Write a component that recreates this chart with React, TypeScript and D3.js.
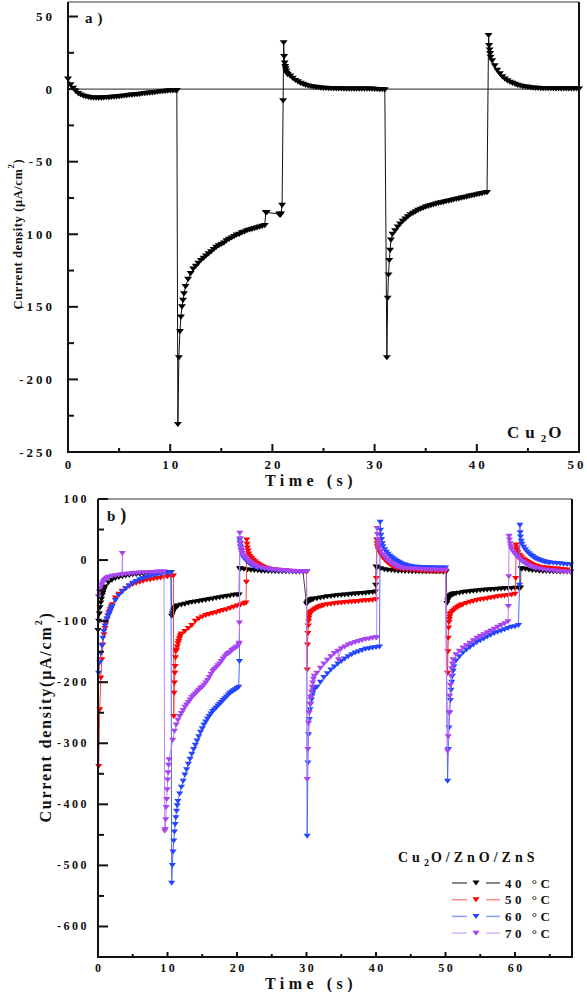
import React from "react";
import * as d3 from "d3";

// [start time (s), time step (s), current density values]
type Seg = [number, number, number[]];

// ---------- panel a : Cu2O ----------
const aTimeTicks = [0, 10, 20, 30, 40, 50];
const aTimeMinor = [5, 15, 25, 35, 45];
const aValueTicks = [50, 0, -50, -100, -150, -200, -250];
const aValueMinor = [25, -25, -75, -125, -175, -225];

const cu2oSeries: Seg[] = [
  [0, 0.25, [7, 3, 0.5, -1.5, -3, -4, -4.8, -5.3, -5.7, -6, -6.1, -6.2, -6.2, -6.1, -6, -5.9, -5.8, -5.6, -5.5, -5.3, -5.1, -4.9, -4.7, -4.5, -4.3, -4.1, -3.9, -3.7, -3.5, -3.3, -3.1, -2.9, -2.7, -2.5, -2.3, -2.1, -1.9, -1.7, -1.5, -1.3, -1.2, -1.1, -1.0]],
  [10.65, 0.1, [-1, -231, -185, -167, -157, -150, -145.5, -141]],
  [11.5, 0.25, [-136, -131, -127, -124, -122, -120, -118, -116.5, -115, -113.5, -112, -110.5, -109, -108, -107, -106, -104.5, -103.5, -102.5, -101.5, -100.5, -100, -99, -98.5, -97.5, -97, -96.5, -96, -95.5, -95, -94.5, -94]],
  [19.35, 0.1, [-85, -85]],
  [20.65, 0.1, [-86, -87, -86, -80]],
  [21.05, 0.05, [-8, 32, 22.5, 18, 15.5, 14, 12.5, 11]],
  [21.5, 0.25, [10, 9, 7.5, 6, 5, 4, 3.3, 2.7, 2.2, 1.8, 1.5, 1.2, 1, 0.8, 0.6, 0.5, 0.4, 0.3, 0.3, 0.2, 0.2, 0.2, 0.1, 0.1, 0.1, 0, 0, 0, 0, 0, 0, 0, 0, 0, -0.1, -0.2, -0.3, -0.3, -0.4]],
  [31.2, 0.08, [-185, -144, -128, -118, -111, -104]],
  [31.75, 0.25, [-100, -97.5, -95, -93, -91, -89.5, -88, -86.5, -85.5, -84.5, -83.5, -82.7, -82, -81.3, -80.7, -80.2, -79.7, -79.2, -78.7, -78.3, -77.9, -77.5, -77.1, -76.7, -76.3, -75.9, -75.5, -75.1, -74.7, -74.3, -73.9, -73.5, -73.1, -72.7, -72.3, -71.9, -71.5, -71.2]],
  [41.15, 0.05, [37, 30, 27, 24.5, 22]],
  [41.5, 0.25, [19.5, 16, 13, 10.5, 8.5, 7, 5.8, 4.8, 4, 3.3, 2.7, 2.2, 1.8, 1.5, 1.2, 1, 0.8, 0.6, 0.5, 0.4, 0.4, 0.3, 0.3, 0.3, 0.2, 0.2, 0.2, 0.2, 0.2, 0.2, 0.2, 0.2, 0.2, 0.2, 0.1]],
];

// ---------- panel b : Cu2O/ZnO/ZnS ----------
const bTimeTicks = [0, 10, 20, 30, 40, 50, 60];
const bTimeMinor = [5, 15, 25, 35, 45, 55, 65];
const bValueTicks = [100, 0, -100, -200, -300, -400, -500, -600];
const bValueMinor = [50, -50, -150, -250, -350, -450, -550];

const series40: Seg[] = [
  [0, 0.1, [-115, -100, -88, -78, -70, -64, -58, -54, -50, -47, -44]],
  [1.5, 0.5, [-37, -33, -30, -28.5, -27, -26, -25, -24, -23.5, -23, -22.5, -22, -21.5, -21, -20.5, -20.5, -20, -20, -20]],
  [10.6, 0.1, [-92, -88, -85, -82, -80, -78.5, -77.5, -76.5, -75.5, -75]],
  [12, 0.5, [-73.5, -72, -70.5, -69.5, -68.5, -67.5, -66.5, -65.5, -64.5, -63.5, -62.5, -61.5, -60.5, -59.5, -58.5, -57.5, -57]],
  [20.3, 0.05, [-57, -14]],
  [20.5, 0.5, [-14.5, -15, -16, -16.5, -17, -17.5, -18, -18, -18.5, -18.5, -19, -19, -19, -19, -19, -19.5, -19.5, -19.5, -19.5]],
  [30.0, 0.1, [-72, -70, -68.5, -67.5, -66.5, -66, -65.5, -65, -64.5, -64.2, -64]],
  [31.5, 0.5, [-63, -62, -61, -60, -59.3, -58.6, -58, -57.5, -57, -56.5, -56, -55.5, -55, -54.5, -54, -53.5, -53]],
  [39.9, 0.05, [-52, -41, -11]],
  [40.2, 0.5, [-12, -14, -15.5, -16.5, -17, -17.5, -18, -18, -18.5, -18.5, -19, -19, -19, -19, -19, -19, -19, -19, -19, -19.5]],
  [50.1, 0.1, [-19.5, -71, -67, -63, -61, -59.5, -58.5, -57.5, -57, -56.5, -56, -55.5]],
  [51.5, 0.5, [-55, -54, -53, -52.3, -51.6, -51, -50.4, -49.8, -49.3, -48.8, -48.3, -47.9, -47.5, -47.1, -46.8, -46.5, -46.2, -46, -45.8]],
  [60.8, 0.05, [-45.5, -14]],
  [61, 0.5, [-14.5, -15, -16, -17, -17.5, -18, -18.5, -18.5, -19, -19, -19, -19.5, -19.5, -19.5, -19.5]],
];

const series50: Seg[] = [
  [0.1, 0.15, [-338, -245, -193, -163, -139, -122, -112, -104, -97, -91, -86, -81, -77, -73]],
  [2.5, 0.5, [-62, -56, -51, -47, -43, -40, -38, -36, -34.5, -33, -32, -31, -30, -29, -28, -27, -26.5]],
  [10.85, 0.05, [-26, -256, -218, -201, -185, -174, -160, -150]],
  [11.3, 0.1, [-147, -142, -137, -133, -129, -126, -123, -121]],
  [12.5, 0.5, [-117, -112, -107, -100, -96, -93, -90.5, -89, -87.5, -86, -84, -82.5, -81, -79, -77, -75, -73.5, -71.5]],
  [21.3, 0.05, [-70, -36, 33, 26, 20]],
  [21.6, 0.1, [15, 10]],
  [21.85, 0.25, [6, 3, 0, -2.5, -5, -7, -9, -10.5, -12, -13, -14, -15]],
  [25, 0.5, [-15.5, -16, -16.5, -17, -17.5, -18, -18.5, -19, -19, -19.5, -20]],
  [30.1, 0.05, [-180, -139, -120, -108, -100, -95, -91, -88]],
  [30.5, 0.25, [-86, -84, -82, -80, -78.5, -77, -76, -75]],
  [32.5, 0.5, [-74, -73, -72, -71.2, -70.5, -70, -69.5, -69, -68.5, -68, -67.5, -67, -66.5, -66, -65.5, -65]],
  [40.05, 0.05, [-30, 33, 27, 22]],
  [40.3, 0.25, [17, 12, 7, 3, 0, -3, -5.5, -7.5, -9.5, -11, -12.5, -13.5]],
  [43.5, 0.5, [-14.5, -15.5, -16, -16.5, -17, -17.5, -18, -18, -18.5, -18.5, -19, -19, -19, -19.5]],
  [50.3, 0.05, [-185, -150, -128, -111, -102, -97, -93, -89]],
  [50.75, 0.25, [-87, -84, -81.5, -79, -77, -75.5, -74, -73]],
  [53, 0.5, [-71, -69, -67.5, -66, -65, -64, -63, -62, -61, -60, -59, -58.5, -58, -57, -56]],
  [60.1, 0.05, [-30, 25, 20, 16]],
  [60.4, 0.25, [12, 8, 5, 2, 0, -2, -4, -5.5, -7, -8.5, -9.5, -10.5]],
  [63.5, 0.5, [-11.5, -12.5, -13, -13.5, -14, -14.5, -15, -15.5, -16]],
];

const series60: Seg[] = [
  [0.1, 0.15, [-185, -168, -153, -140, -128, -117, -108, -101, -96, -92, -88, -84, -80, -76]],
  [2.5, 0.5, [-66, -58, -52, -47, -42, -38, -35, -32, -30, -28, -26.5, -25, -24, -23, -22, -21, -20.5]],
  [10.6, 0.1, [-529, -500, -478, -460, -445, -433, -422, -411, -402, -395]],
  [11.75, 0.25, [-383, -372, -362, -352, -343, -334, -326, -318, -310, -303, -296, -289, -282, -276, -270, -265, -260, -256, -252, -248, -245, -242, -239, -236, -233, -230, -227, -224, -221, -218, -216, -214, -212, -210, -208]],
  [20.35, 0.05, [-166, 33, 28, 22]],
  [20.6, 0.1, [16, 11, 7]],
  [21, 0.25, [3, 0, -3, -5.5, -7.5, -9, -10.5, -12, -13]],
  [23.5, 0.5, [-14, -15, -16, -16.5, -17, -17.5, -18, -18, -18.5, -18.5, -19, -19, -19, -19]],
  [30.1, 0.1, [-452, -332, -286, -261, -245, -236, -229, -223, -218, -214, -210]],
  [31.5, 0.5, [-208, -200, -192, -186, -180, -175, -170, -166, -162, -158, -155, -152, -150, -148, -146, -145, -144, -143, -142]],
  [40.6, 0.05, [62, 49, 41]],
  [40.8, 0.1, [34, 27]],
  [41, 0.25, [22, 17, 13, 9.5, 6.5, 4, 2, 0, -2, -3.5, -5, -6.5, -7.5, -8.5, -9.5, -10]],
  [45, 0.5, [-10.5, -11, -11.5, -12, -12, -12.5, -12.5, -13, -13, -13, -13]],
  [50.3, 0.1, [-362, -310, -275, -250, -230, -213, -200, -190, -182, -175]],
  [51.5, 0.5, [-165, -158, -152, -147, -143, -139, -135, -132, -129, -126, -123, -120, -118, -116, -114, -112, -110, -109, -107]],
  [60.65, 0.05, [-41, 57, 45, 38]],
  [60.9, 0.1, [31]],
  [61, 0.25, [26, 21, 17, 13.5, 10.5, 8, 6, 4, 2.5, 1, 0, -1, -2, -3, -3.5, -4]],
  [65, 0.5, [-4.5, -5, -5.5, -6, -6.5, -7, -7.5]],
];

const series70: Seg[] = [
  [0.05, 0.15, [-60, -52, -46, -41, -38, -35, -33, -31.5, -30, -29]],
  [1.5, 0.5, [-28, -26.5, -25.5, -24.5]],
  [3.45, 0.05, [-24, 11, -24]],
  [4, 0.5, [-23, -22.5, -22, -21.5, -21, -20.5, -20.5, -20, -20, -19.5, -19.5, -19]],
  [9.6, 0.07, [-444, -441, -425, -405, -392, -376, -360, -348, -336, -327]],
  [10.75, 0.25, [-295, -280, -270, -262, -256, -251, -246, -241, -237, -233, -229, -225, -222, -219, -216, -213, -210, -208, -205, -201, -197, -192, -187, -182, -179, -176, -173, -170, -166, -162, -158, -155, -153, -151, -148, -146, -144, -142, -139]],
  [20.3, 0.05, [-136, -103, 44, 35, 26]],
  [20.6, 0.1, [19, 14, 10]],
  [21, 0.25, [6, 3, 0, -2.5, -4.5, -6.5, -8, -9.5, -11]],
  [23.5, 0.5, [-12.5, -13.5, -14.5, -15.5, -16, -16.5, -17, -17.5, -18, -18, -18.5, -18.5, -19, -19]],
  [30.1, 0.1, [-359, -310, -267, -250, -236, -225, -216, -208, -201, -195, -190]],
  [31.5, 0.5, [-185, -177, -170, -164, -158, -153, -149]],
  [34.6, 0.1, [-163]],
  [35, 0.5, [-145, -142, -139, -137, -135, -133, -131.5, -130, -129, -128, -127]],
  [40.1, 0.05, [-127, 52, 42]],
  [40.3, 0.1, [33, 26, 20]],
  [40.75, 0.25, [14, 9, 5, 1.5, -1, -3.5, -5.5, -7.5, -9, -10.5, -11.5, -12.5, -13]],
  [44, 0.5, [-13.5, -14, -14.5, -15, -15, -15.5, -15.5, -16, -16, -16, -16.5, -16.5, -16.5]],
  [50.3, 0.1, [-313, -289, -250, -223, -205, -190, -178, -170, -163]],
  [51.5, 0.5, [-155, -149, -144, -140, -136, -132, -128, -125, -122, -119, -116, -113, -110, -107, -104, -101]],
  [59.05, 0.05, [-76, -27, 39, 33]],
  [59.3, 0.1, [27, 22, 17.5]],
  [59.75, 0.25, [13, 9.5, 6, 3, 0.5, -2, -4, -6, -7.5, -9, -10.5, -11.5, -12.5, -13.5]],
  [63.5, 0.5, [-14.5, -15.5, -16.5, -17, -17.5, -18, -18.5, -19, -19.5, -20]],
];

const temperatureLabels = ["40", "50", "60", "70"];
const bSeriesData = [series40, series50, series60, series70];
const markColors = ["#000000", "#ff0000", "#2545ff", "#a845f0"];
const lineColors = ["#404040", "#ff4040", "#4d68ff", "#c080f4"];
const legendLineColors = ["#606060", "#ff8c8c", "#8aa0ff", "#dcb4f8"];

function expand(segs: Seg[]): [number, number][] {
  const out: [number, number][] = [];
  for (const [t0, dt, vs] of segs) vs.forEach((v, i) => out.push([t0 + i * dt, v]));
  return out;
}

const FONT = "'Liberation Serif', 'Times New Roman', serif";
const TRI_A = "M-4,-2.5L4,-2.5L0,2.7Z";
const TRI_B = "M-3.6,-2.4L3.6,-2.4L0,2.6Z";

export default function App() {
  // panel a scales
  const xa = d3.scaleLinear().domain([0, 50]).range([68, 579]);
  const ya = d3.scaleLinear().domain([-250, 60]).range([452, 2]);
  // panel b scales
  const xb = d3.scaleLinear().domain([0, 68.2]).range([98, 572]);
  const yb = d3.scaleLinear().domain([-650, 100]).range([957, 499]);

  const ptsA = expand(cu2oSeries);
  const lineA = d3.line<[number, number]>().x((d) => xa(d[0])).y((d) => ya(d[1]));
  const lineB = d3.line<[number, number]>().x((d) => xb(d[0])).y((d) => yb(d[1]));
  const ptsB = bSeriesData.map(expand);

  const fmt = (v: number) => (v < 0 ? "-" + Math.abs(v) : String(v));

  const txt = { fontFamily: FONT, fontWeight: 700 as const, fill: "#111" };

  return (
    <svg
      width={587}
      height={992}
      style={{ position: "absolute", left: 0, top: 0, background: "#fff" }}
    >
      <rect x={0} y={0} width={587} height={992} fill="#fff" />

      {/* ================= PANEL A ================= */}
      <g>
        <line x1={xa(0)} x2={xa(50)} y1={ya(0)} y2={ya(0)} stroke="#222" strokeWidth={1} />
        <path d={lineA(ptsA) || ""} fill="none" stroke="#111" strokeWidth={1} />
        {ptsA.map((d, i) => (
          <path key={i} d={TRI_A} transform={`translate(${xa(d[0])},${ya(d[1])})`} fill="#000" />
        ))}

        {/* frame */}
        <line x1={xa(0)} x2={xa(50)} y1={2} y2={2} stroke="#333" strokeWidth={1} />
        <line x1={xa(50)} x2={xa(50)} y1={2} y2={452} stroke="#111" strokeWidth={2} />
        <line x1={xa(0)} x2={xa(0)} y1={2} y2={453} stroke="#111" strokeWidth={2} />
        <line x1={67} x2={580} y1={452} y2={452} stroke="#111" strokeWidth={2} />

        {aValueTicks.map((v) => (
          <g key={"ay" + v}>
            <line x1={xa(0)} x2={xa(0) + 10} y1={ya(v)} y2={ya(v)} stroke="#111" strokeWidth={2} />
            <text x={55} y={ya(v) + 4.5} textAnchor="end" fontSize={13} letterSpacing={3} {...txt}>
              {fmt(v)}
            </text>
          </g>
        ))}
        {aValueMinor.map((v) => (
          <line key={"aym" + v} x1={xa(0)} x2={xa(0) + 6} y1={ya(v)} y2={ya(v)} stroke="#111" strokeWidth={2} />
        ))}
        {aTimeTicks.map((t) => (
          <g key={"ax" + t}>
            <line x1={xa(t)} x2={xa(t)} y1={452} y2={444} stroke="#111" strokeWidth={2} />
            <text x={xa(t) + (t === 50 ? -2 : 1.5)} y={468.5} textAnchor="middle" fontSize={13} letterSpacing={3} {...txt}>
              {String(t)}
            </text>
          </g>
        ))}
        {aTimeMinor.map((t) => (
          <line key={"axm" + t} x1={xa(t)} x2={xa(t)} y1={452} y2={448} stroke="#111" strokeWidth={2} />
        ))}

        <text x={311} y={486} textAnchor="middle" fontSize={16} letterSpacing={4.5} {...txt}>
          Time (s)
        </text>
        <text transform="translate(22,234) rotate(-90)" textAnchor="middle" fontSize={12.5} letterSpacing={0.6} {...txt}>
          Current density (μA/cm
          <tspan dy={-8} fontSize={9}>2</tspan>
          <tspan dy={8}>)</tspan>
        </text>
        <text x={85} y={23} fontSize={15} letterSpacing={5} {...txt}>
          a)
        </text>
        <text x={507} y={438} fontSize={17} letterSpacing={6} {...txt}>
          Cu
          <tspan dy={4} fontSize={11} letterSpacing={2}>2</tspan>
          <tspan dy={-4}>O</tspan>
        </text>
      </g>

      {/* ================= PANEL B ================= */}
      <g>
        {ptsB.map((pts, si) => (
          <g key={"s" + si}>
            <path d={lineB(pts) || ""} fill="none" stroke={lineColors[si]} strokeWidth={1} />
            {pts.map((d, i) => (
              <path key={i} d={TRI_B} transform={`translate(${xb(d[0])},${yb(d[1])})`} fill={markColors[si]} />
            ))}
          </g>
        ))}

        {/* frame */}
        <line x1={xb(0)} x2={xb(68.2)} y1={499} y2={499} stroke="#333" strokeWidth={1} />
        <line x1={xb(68.2)} x2={xb(68.2)} y1={499} y2={957} stroke="#111" strokeWidth={2} />
        <line x1={xb(0)} x2={xb(0)} y1={499} y2={958} stroke="#111" strokeWidth={2} />
        <line x1={97} x2={573} y1={957} y2={957} stroke="#111" strokeWidth={2} />

        {bValueTicks.map((v) => (
          <g key={"by" + v}>
            <line x1={xb(0)} x2={xb(0) + 10} y1={yb(v)} y2={yb(v)} stroke="#111" strokeWidth={2} />
            <text x={89} y={yb(v) + 4} textAnchor="end" fontSize={12} letterSpacing={2.5} {...txt}>
              {fmt(v)}
            </text>
          </g>
        ))}
        {bValueMinor.map((v) => (
          <line key={"bym" + v} x1={xb(0)} x2={xb(0) + 6} y1={yb(v)} y2={yb(v)} stroke="#111" strokeWidth={2} />
        ))}
        {bTimeTicks.map((t) => (
          <g key={"bx" + t}>
            <line x1={xb(t)} x2={xb(t)} y1={957} y2={952} stroke="#111" strokeWidth={2} />
            <text x={xb(t) + 1.2} y={972} textAnchor="middle" fontSize={12} letterSpacing={2.5} {...txt}>
              {String(t)}
            </text>
          </g>
        ))}
        {bTimeMinor.map((t) => (
          <line key={"bxm" + t} x1={xb(t)} x2={xb(t)} y1={957} y2={954} stroke="#111" strokeWidth={2} />
        ))}

        <text x={311} y={989} textAnchor="middle" fontSize={16} letterSpacing={4.5} {...txt}>
          Time (s)
        </text>
        <text transform="translate(51,717) rotate(-90)" textAnchor="middle" fontSize={16} letterSpacing={1.8} {...txt}>
          Current density(μA/cm
          <tspan dy={-9} fontSize={10}>2</tspan>
          <tspan dy={9}>)</tspan>
        </text>
        <text x={107} y={521} fontSize={15} letterSpacing={5} {...txt}>
          b
          <tspan fontSize={18}>)</tspan>
        </text>

        {/* legend */}
        <text x={398} y={862} fontSize={14} letterSpacing={4} {...txt}>
          Cu
          <tspan dy={4} fontSize={10} letterSpacing={2}>2</tspan>
          <tspan dy={-4}>O/ZnO/ZnS</tspan>
        </text>
        {temperatureLabels.map((lab, i) => {
          const cy = 883 + i * 16.7;
          return (
            <g key={"lg" + lab}>
              <line x1={452} x2={467} y1={cy} y2={cy} stroke={legendLineColors[i]} strokeWidth={1.5} />
              <line x1={486} x2={500} y1={cy} y2={cy} stroke={legendLineColors[i]} strokeWidth={1.5} />
              <path d={TRI_B} transform={`translate(476,${cy})`} fill={markColors[i]} />
              <text x={505} y={cy + 4.5} fontSize={13} letterSpacing={3.5} {...txt}>
                {lab + " °C"}
              </text>
            </g>
          );
        })}
      </g>
    </svg>
  );
}
